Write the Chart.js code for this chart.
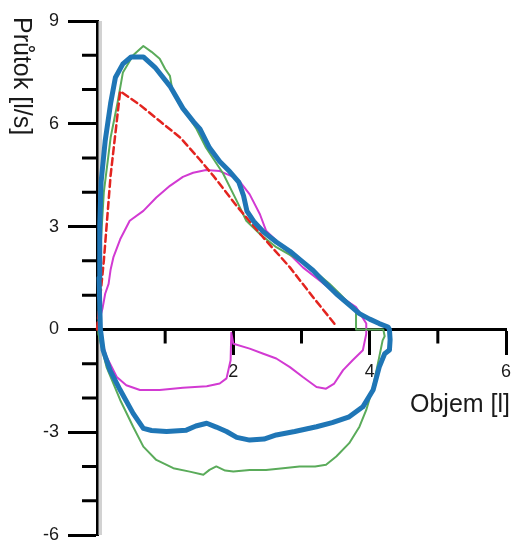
<!DOCTYPE html>
<html>
<head>
<meta charset="utf-8">
<script src="https://cdn.jsdelivr.net/npm/chart.js@4.4.1/dist/chart.umd.min.js"></script>
<style>
html, body { margin: 0; padding: 0; background: #fff; }
</style>
</head>
<body>
<canvas id="myChart" width="513" height="542"></canvas>
<script>
// Objem [l] / Průtok [l/s] - smyčky průtok-objem
var xTickLabels = [2, 4, 6];
var yTickLabels = [-6, -3, 0, 3, 6, 9];

var predVol  = [0.0, 0.1, 0.2, 0.34, 0.63, 0.92, 1.22, 1.51, 1.72, 2.05, 2.44, 2.83, 3.17, 3.51];
var predFlow = [0.0, 2.0, 4.5, 6.95, 6.55, 6.08, 5.6, 4.95, 4.45, 3.6, 2.68, 1.81, 0.94, 0.1];

var blueVol = [0.05, 0.03, 0.04, 0.06, 0.12, 0.2, 0.27, 0.38, 0.5, 0.68, 0.85, 1.07, 1.26, 1.42, 1.51, 1.65, 1.8, 1.95, 2.08, 2.15, 2.2, 2.3, 2.44, 2.63, 2.83, 3.0, 3.17, 3.35, 3.51, 3.7, 3.85, 4.0, 4.14, 4.27,
  4.29, 4.3, 4.29, 4.22, 4.14, 4.05, 3.9, 3.7, 3.45, 3.22, 2.9, 2.63, 2.45, 2.24, 2.05, 1.9, 1.75, 1.61, 1.45, 1.31, 1.02, 0.8, 0.68, 0.53, 0.34, 0.19, 0.09, 0.05];
var blueFlow = [0.0, 1.5, 3.0, 4.3, 5.5, 6.6, 7.35, 7.75, 7.95, 7.95, 7.65, 7.1, 6.45, 6.05, 5.85, 5.3, 4.9, 4.6, 4.3, 3.9, 3.45, 3.15, 2.85, 2.55, 2.28, 2.0, 1.72, 1.35, 1.04, 0.72, 0.46, 0.3, 0.17, 0.07,
  0.0, -0.3, -0.6, -0.71, -1.1, -1.77, -2.26, -2.55, -2.72, -2.84, -2.98, -3.08, -3.2, -3.23, -3.15, -2.98, -2.85, -2.74, -2.82, -2.94, -2.98, -2.95, -2.89, -2.45, -1.77, -1.19, -0.61, 0.0];

var greenVol = [0.02, 0.04, 0.1, 0.2, 0.3, 0.38, 0.53, 0.68, 0.8, 0.92, 1.0, 1.07, 1.1, 1.2, 1.36, 1.46, 1.6, 1.85, 2.05, 2.19, 2.39, 2.63, 2.85, 3.07, 3.25, 3.41, 3.56, 3.7, 3.8, 3.8,
  4.2, 4.22, 4.19, 4.14, 4.05, 3.95, 3.85, 3.7, 3.51, 3.36, 3.2, 2.97, 2.73, 2.48, 2.24, 2.0, 1.88, 1.75, 1.65, 1.56, 1.36, 1.12, 0.87, 0.68, 0.53, 0.34, 0.14, 0.02, 0.02];
var greenFlow = [0.0, 2.0, 4.0, 5.6, 6.6, 7.5, 8.0, 8.27, 8.1, 7.9, 7.6, 7.4, 7.05, 6.6, 6.15, 5.85, 5.3, 4.55, 3.75, 3.17, 2.78, 2.4, 2.15, 1.9, 1.6, 1.33, 1.04, 0.75, 0.55, 0.0,
  0.0, -0.2, -0.32, -0.81, -1.68, -2.35, -2.84, -3.32, -3.71, -3.95, -4.0, -4.0, -4.05, -4.1, -4.1, -4.15, -4.12, -4.0, -4.1, -4.24, -4.15, -4.05, -3.81, -3.42, -2.84, -2.06, -1.1, -0.13, 0.0];

var pinkVol = [0.02, 0.02, 0.08, 0.12, 0.17, 0.2, 0.24, 0.34, 0.48, 0.68, 0.87, 1.07, 1.26, 1.41, 1.6, 1.8, 2.0, 2.09, 2.24, 2.39, 2.48, 2.68, 2.85, 3.02, 3.27, 3.51, 3.8, 3.95,
  3.95, 3.9, 3.75, 3.61, 3.48, 3.36, 3.22, 3.02, 2.83, 2.63, 2.44, 2.24, 2.0, 1.97, 1.96, 1.9, 1.8, 1.61, 1.26, 0.92, 0.63, 0.43, 0.29, 0.14, 0.05, 0.02];
var pinkFlow = [0.0, 0.17, 0.6, 1.04, 1.33, 1.75, 2.1, 2.63, 3.17, 3.46, 3.85, 4.19, 4.45, 4.57, 4.65, 4.62, 4.45, 4.33, 3.94, 3.36, 2.88, 2.49, 2.15, 1.81, 1.42, 1.04, 0.65, 0.17,
  -0.13, -0.61, -0.9, -1.19, -1.58, -1.73, -1.68, -1.39, -1.1, -0.85, -0.71, -0.56, -0.42, -0.1, -0.9, -1.43, -1.58, -1.66, -1.7, -1.77, -1.77, -1.63, -1.39, -0.8, -0.2, 0.0];

function pts(vol, flow) {
    return vol.map(function (v, i) { return { x: v, y: flow[i] }; });
}

var fontFamily = '"Liberation Sans", Arial, sans-serif';

var axisExtras = {
    id: 'axisExtras',
    beforeDatasetsDraw: function (chart) {
        var ctx = chart.ctx, a = chart.chartArea;
        var xs = chart.scales.x, ys = chart.scales.y;
        var y0 = ys.getPixelForValue(0);
        ctx.save();
        // grey shadow next to the y axis
        ctx.fillStyle = '#d2d2d2';
        ctx.fillRect(a.left + 1.5, a.top, 3.5, a.bottom - a.top);
        // minor ticks
        ctx.strokeStyle = '#000';
        ctx.lineWidth = 3;
        ctx.beginPath();
        for (var v = -6; v <= 9; v++) {
            if (v % 3 === 0) continue;
            var py = ys.getPixelForValue(v);
            ctx.moveTo(a.left - 15, py);
            ctx.lineTo(a.left, py);
        }
        [1, 3, 5].forEach(function (v) {
            var px = xs.getPixelForValue(v);
            ctx.moveTo(px, y0);
            ctx.lineTo(px, y0 + 14);
        });
        ctx.stroke();
        ctx.restore();
    },
    afterDraw: function (chart) {
        var ctx = chart.ctx, a = chart.chartArea;
        var y0 = chart.scales.y.getPixelForValue(0);
        ctx.save();
        ctx.fillStyle = '#1a1a1a';
        ctx.font = '25px ' + fontFamily;
        ctx.textBaseline = 'alphabetic';
        ctx.textAlign = 'right';
        ctx.fillText('Objem [l]', a.right + 4, y0 + 83);
        ctx.translate(14, a.top - 4);
        ctx.rotate(Math.PI / 2);
        ctx.textAlign = 'left';
        ctx.fillText('Průtok [l/s]', 0, 0);
        ctx.restore();
    }
};

new Chart('myChart', {
    type: 'scatter',
    data: {
        datasets: [
            { label: 'best', data: pts(blueVol, blueFlow), borderColor: '#1f76b6', borderWidth: 5 },
            { label: 'pred', data: pts(predVol, predFlow), borderColor: '#e3241f', borderWidth: 2.5, borderDash: [7, 4] },
            { label: 'trial 2', data: pts(greenVol, greenFlow), borderColor: '#5aab5a', borderWidth: 2 },
            { label: 'trial 3', data: pts(pinkVol, pinkFlow), borderColor: '#d23ad2', borderWidth: 2 }
        ]
    },
    options: {
        responsive: false,
        animation: false,
        devicePixelRatio: 1,
        showLine: true,
        clip: 4,
        elements: {
            point: { radius: 0 },
            line: { tension: 0, borderJoinStyle: 'round', borderCapStyle: 'round' }
        },
        layout: { padding: { top: 21, right: 7, bottom: 7, left: 0 } },
        plugins: {
            legend: { display: false },
            tooltip: { enabled: false }
        },
        scales: {
            x: {
                type: 'linear',
                position: { y: 0 },
                min: 0,
                max: 6,
                afterFit: function (s) { s.height = 0; s.paddingLeft = 0; s.paddingRight = 0; },
                border: { display: true, color: '#000', width: 3 },
                grid: { display: true, drawOnChartArea: false, tickLength: 24, tickWidth: 3, tickColor: '#000' },
                ticks: {
                    stepSize: 2,
                    autoSkip: false,
                    maxRotation: 0,
                    padding: 8,
                    color: '#1a1a1a',
                    font: { size: 18, family: fontFamily },
                    callback: function (v) { return xTickLabels.indexOf(v) >= 0 ? String(v) : ''; }
                }
            },
            y: {
                type: 'linear',
                position: 'left',
                min: -6,
                max: 9,
                afterFit: function (s) { s.width = 97; s.paddingTop = 0; s.paddingBottom = 0; },
                border: { display: true, color: '#000', width: 3 },
                grid: { display: true, drawOnChartArea: false, tickLength: 29, tickWidth: 3, tickColor: '#000' },
                ticks: {
                    stepSize: 3,
                    padding: 9,
                    color: '#1a1a1a',
                    font: { size: 18, family: fontFamily },
                    callback: function (v) { return yTickLabels.indexOf(v) >= 0 ? String(v) : ''; }
                }
            }
        }
    },
    plugins: [axisExtras]
});
</script>
</body>
</html>
